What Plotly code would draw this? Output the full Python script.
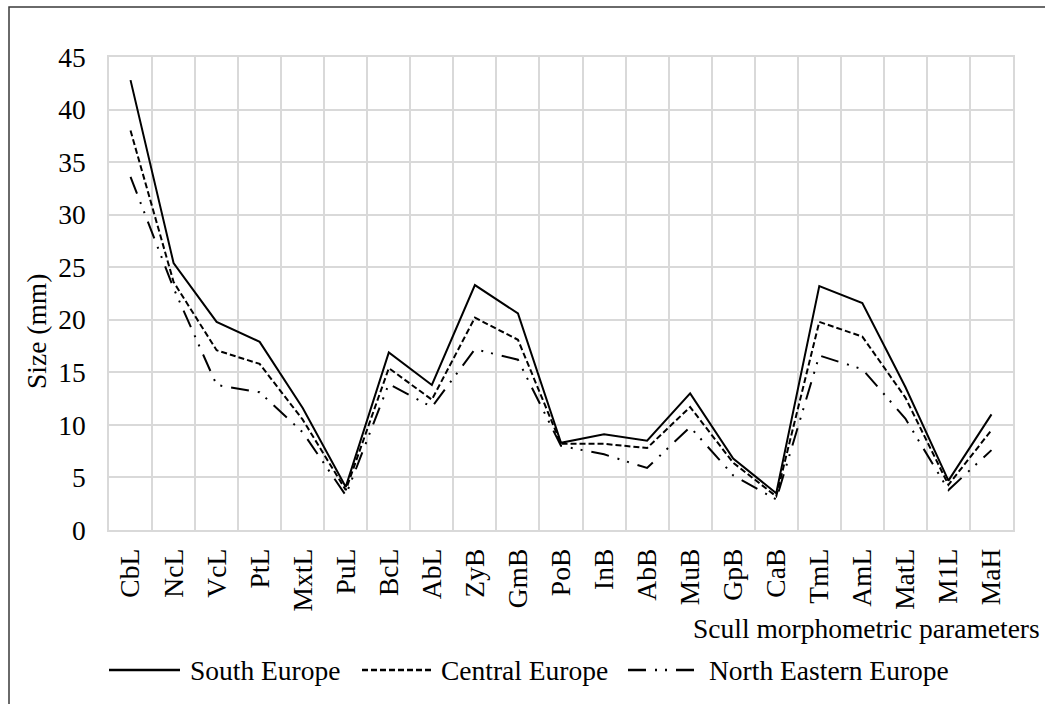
import plotly.graph_objects as go

categories = ["CbL", "NcL", "VcL", "PtL", "MxtL", "PuL", "BcL", "AbL", "ZyB", "GmB", "PoB",
              "InB", "AbB", "MuB", "GpB", "CaB", "TmL", "AmL", "MatL", "M1L", "MaH"]
south_europe = [42.8, 25.4, 19.8, 17.9, 11.6, 4.1, 16.9, 13.8, 23.3, 20.6, 8.3,
                9.1, 8.5, 13.0, 6.8, 3.5, 23.2, 21.6, 13.6, 4.7, 11.0]
central_europe = [38.0, 23.6, 17.1, 15.8, 10.5, 3.8, 15.4, 12.4, 20.2, 18.1, 8.2,
                  8.2, 7.8, 11.7, 6.4, 3.2, 19.8, 18.4, 12.6, 4.3, 9.5]
north_eastern_europe = [33.6, 23.0, 13.8, 13.1, 9.3, 3.3, 13.9, 11.7, 17.2, 16.2, 8.0,
                        7.2, 5.9, 9.8, 5.2, 2.9, 16.6, 15.3, 10.6, 3.8, 7.6]
series_names = ["South Europe", "Central Europe", "North Eastern Europe"]
y_ticks = [0, 5, 10, 15, 20, 25, 30, 35, 40, 45]

FONT = "Liberation Serif, Times New Roman, serif"
FS = 27.5
dashes = ["solid", "6px,3px", "18px,9px,2px,8px,2px,9px"]
values = [south_europe, central_europe, north_eastern_europe]

fig = go.Figure()
for name, vals, d in zip(series_names, values, dashes):
    fig.add_trace(go.Scatter(x=categories, y=vals, mode="lines", name=name,
                             line=dict(color="black", width=2, dash=d),
                             showlegend=False))

W, H = 1045, 704
L, R, T, B = 109, 32, 57, 174
pw, ph = W - L - R, H - T - B

def px(x):
    return (x - L) / pw

def py(y):
    return (H - B - y) / ph

grid = "#d9d9d9"
fig.update_layout(
    width=W, height=H,
    margin=dict(l=L, r=R, t=T, b=B),
    paper_bgcolor="white", plot_bgcolor="white",
    font=dict(family=FONT, size=FS, color="black"),
    xaxis=dict(type="category", tickson="boundaries", showgrid=True, gridcolor=grid, gridwidth=1.5,
               showline=True, linecolor=grid, linewidth=1.5, mirror=True,
               ticks="", tickangle=-90, ticklabelstandoff=6,
               tickfont=dict(family=FONT, size=FS, color="black"), range=[-0.5, 20.5]),
    yaxis=dict(range=[0, 45], tickvals=y_ticks, showgrid=True, gridcolor=grid, gridwidth=1.5,
               showline=True, linecolor=grid, linewidth=1.5, mirror=True,
               zeroline=False, ticks="", ticklabelstandoff=16,
               tickfont=dict(family=FONT, size=FS, color="black")),
)

ann = []
ann.append(dict(text="Size (mm)", xref="paper", yref="paper", x=px(37), y=py(332),
                textangle=-90, showarrow=False, xanchor="center", yanchor="middle",
                font=dict(family=FONT, size=FS, color="black")))
ann.append(dict(text="Scull morphometric parameters", xref="paper", yref="paper",
                x=px(1042), y=py(628), showarrow=False, xanchor="right", yanchor="middle",
                font=dict(family=FONT, size=FS, color="black")))

legend_pos = [(109, 180, 188), (362, 432, 439), (628, 700, 707)]
shapes = []
ly = 670
for (x0, x1, tx), name, d in zip(legend_pos, series_names, dashes):
    shapes.append(dict(type="line", xref="paper", yref="paper", x0=px(x0), x1=px(x1),
                       y0=py(ly), y1=py(ly), line=dict(color="black", width=2.5, dash=d)))
    ann.append(dict(text=name, xref="paper", yref="paper", x=px(tx), y=py(ly),
                    showarrow=False, xanchor="left", yanchor="middle",
                    font=dict(family=FONT, size=FS, color="black")))

shapes.append(dict(type="rect", xref="paper", yref="paper", x0=px(9), x1=px(1100),
                   y0=py(760), y1=py(7), line=dict(color="#3a3a3a", width=1.5),
                   fillcolor="rgba(0,0,0,0)", layer="below"))

fig.update_layout(annotations=ann, shapes=shapes)
fig.write_html("out.html",
               config={"displayModeBar": False},
               post_script="document.body.style.margin='0';document.body.style.overflow='hidden';")
